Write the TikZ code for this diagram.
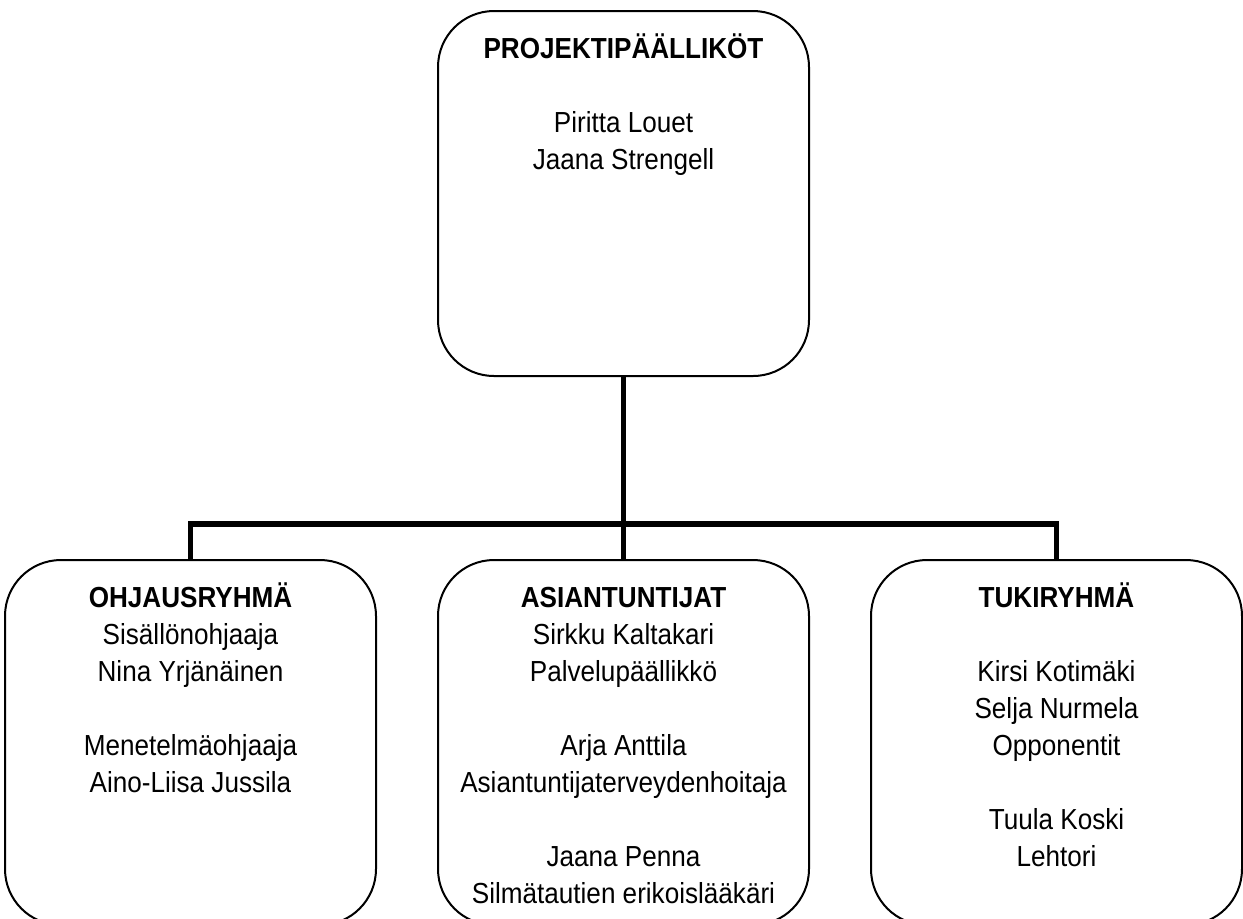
\documentclass[tikz,border=0pt]{standalone}
\usepackage{fontspec}
\setmainfont{Liberation Sans}[FakeStretch=0.9]
\usetikzlibrary{positioning}

\begin{document}
\begin{tikzpicture}[
    x=0.5pt, y=-0.5pt,
    box/.style={rectangle, rounded corners=28pt, draw, line width=1pt,
                minimum width=185.5pt, minimum height=182.5pt, inner sep=0pt},
    boxtxt/.style={anchor=north, align=center, inner sep=0pt,
                   font=\fontsize{14.5}{18.5}\selectfont},
    conn/.style={line width=2.8pt}
]
\useasboundingbox (0,0) rectangle (1243,918);

\node[box] (lead) at (623.5,193.5) {};
\node[box, below=91pt of lead] (experts) {};
\node[box, left=30pt of experts]  (steering) {};
\node[box, right=30pt of experts] (support) {};

\node[boxtxt, below=10pt of lead.north] (leadtxt)
    {\rule{0pt}{14pt}\textbf{PROJEKTIPÄÄLLIKÖT}\\[18.5pt]Piritta Louet\\Jaana Strengell};
\node[boxtxt, below=10pt of steering.north] (steeringtxt)
    {\rule{0pt}{14pt}\textbf{OHJAUSRYHMÄ}\\Sisällönohjaaja\\Nina Yrjänäinen\\[18.5pt]Menetelmäohjaaja\\Aino-Liisa Jussila};
\node[boxtxt, below=10pt of experts.north] (expertstxt)
    {\rule{0pt}{14pt}\textbf{ASIANTUNTIJAT}\\Sirkku Kaltakari\\Palvelupäällikkö\\[18.5pt]Arja Anttila\\Asiantuntijaterveydenhoitaja\\[18.5pt]Jaana Penna\\Silmätautien erikoislääkäri};
\node[boxtxt, below=10pt of support.north] (supporttxt)
    {\rule{0pt}{14pt}\textbf{TUKIRYHMÄ}\\[18.5pt]Kirsi Kotimäki\\Selja Nurmela\\Opponentit\\[18.5pt]Tuula Koski\\Lehtori};

\draw[conn] (lead.south) -- (experts.north);
\draw[conn] (steering.north) -- ++(0,-35) -| (support.north);
\end{tikzpicture}
\end{document}
